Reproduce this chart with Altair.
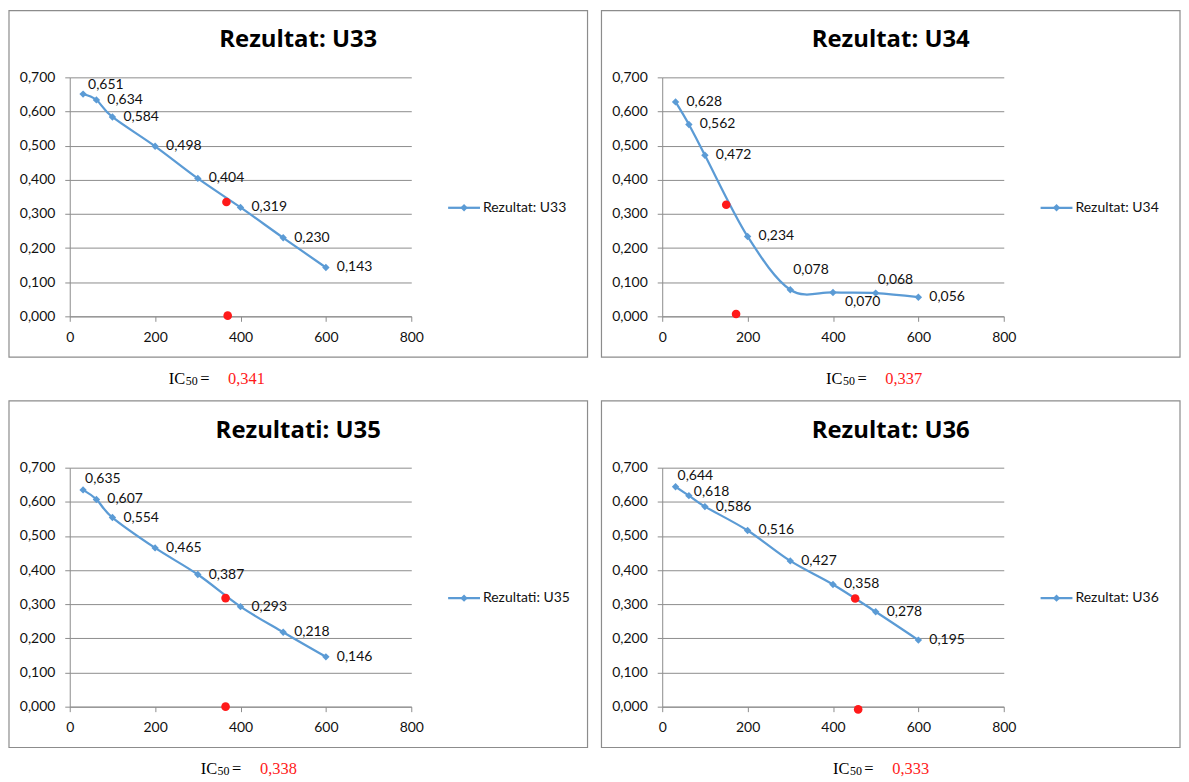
import altair as alt
import pandas as pd

# ---- data ----
conc = [31.25, 62.5, 100, 200, 300, 400, 500, 600]
u33 = [0.651, 0.634, 0.584, 0.498, 0.404, 0.319, 0.230, 0.143]
u34 = [0.628, 0.562, 0.472, 0.234, 0.078, 0.070, 0.068, 0.056]
u35 = [0.635, 0.607, 0.554, 0.465, 0.387, 0.293, 0.218, 0.146]
u36 = [0.644, 0.618, 0.586, 0.516, 0.427, 0.358, 0.278, 0.195]
series = [u33, u34, u35, u36]

titles = ["Rezultat: U33", "Rezultat: U34", "Rezultati: U35", "Rezultat: U36"]
ic50_text = ["0,341", "0,337", "0,338", "0,333"]

# IC50 marker points (red)
red_x = [[367, 370], [150, 173], [365, 365], [452, 459]]
red_y = [[0.335, 0.002], [0.327, 0.007], [0.318, 0.0], [0.317, -0.008]]

x_ticks = [0, 200, 400, 600, 800]
y_ticks = [0, 0.1, 0.2, 0.3, 0.4, 0.5, 0.6, 0.7]

# ---- style ----
BLUE = "#5B9BD5"
RED = "#FF1A1A"
GRAY = "#8C8C8C"
SANS = "Lato"
TITLE_FONT = "Open Sans"
SERIF = "Liberation Serif"
W, H = 343, 240

# label offsets (dx, dy) per panel; default is (11, 0)
label_off = [
    {0: (5, -9)},
    {4: (3, -20), 5: (12, 10), 6: (2, -13)},
    {0: (2, -11)},
    {0: (2, -11), 1: (5, -4)},
]
caption_anchor = [116, 181, 148, 188]


def fmt(v):
    return f"{v:.3f}".replace(".", ",")


xs = alt.Scale(domain=[0, 800], nice=False, zero=False)
ys = alt.Scale(domain=[0, 0.7], nice=False, zero=False)

x_axis = alt.Axis(values=x_ticks, tickCount=20, grid=False, domainColor=GRAY,
                  tickColor=GRAY, tickSize=5, labelPadding=9,
                  labelFont=SANS, labelFontSize=14, labelColor="#111",
                  labelFlush=False, labelOverlap=False, format="d")
y_axis = alt.Axis(values=y_ticks, tickCount=20, grid=True, gridColor=GRAY,
                  domainColor=GRAY, tickColor=GRAY, tickSize=5,
                  labelPadding=10, labelFont=SANS, labelFontSize=14,
                  labelColor="#111", labelFlush=False, labelOverlap=False,
                  labelExpr="replace(format(datum.value, '.3f'), '.', ',')")


def xq():
    return alt.X("x:Q", scale=xs, title=None, axis=x_axis)


def yq():
    return alt.Y("y:Q", scale=ys, title=None, axis=y_axis)


def panel(i):
    df = pd.DataFrame({
        "x": conc,
        "y": series[i],
        "lbl": [fmt(v) for v in series[i]],
        "idx": list(range(len(conc))),
    })
    base = alt.Chart(df)
    one = alt.Chart(pd.DataFrame({"a": [0]}))

    line = base.mark_line(interpolate="cardinal", color=BLUE, strokeWidth=2.25).encode(
        x=xq(), y=yq())

    box = one.mark_rect(fillOpacity=0, stroke=GRAY, strokeWidth=1.2).encode(
        x=alt.value(-61), x2=alt.value(520), y=alt.value(-67), y2=alt.value(H + 41))

    pts = base.mark_point(shape="diamond", filled=True, size=55, color=BLUE, opacity=1).encode(
        x=xq(), y=yq())

    layers = [line, box, pts]

    # data labels grouped by offset
    offs = label_off[i]
    default_idx = [k for k in range(len(conc)) if k not in offs]
    groups = {(11, 0): default_idx}
    for k, o in offs.items():
        groups.setdefault(o, []).append(k)
    for (dx, dy), idxs in groups.items():
        layers.append(
            base.mark_text(align="left", baseline="middle", dx=dx, dy=dy,
                           font=SANS, fontSize=14, color="#111")
            .encode(x=xq(), y=yq(), text="lbl:N")
            .transform_filter(alt.FieldOneOfPredicate(field="idx", oneOf=idxs))
        )

    rdf = pd.DataFrame({"x": red_x[i], "y": red_y[i]})
    red = alt.Chart(rdf).mark_point(shape="circle", filled=True, size=75, color=RED, opacity=1).encode(
        x=xq(), y=yq())
    layers.append(red)

    # title
    layers.append(one.mark_text(align="center", baseline="alphabetic", font=TITLE_FONT,
                                fontSize=24, fontWeight="bold", color="#000").encode(
        x=alt.value(229.5), y=alt.value(-30), text=alt.value(titles[i])))

    # legend
    layers.append(one.mark_rule(color=BLUE, strokeWidth=2.25).encode(
        x=alt.value(380), x2=alt.value(412), y=alt.value(131)))
    layers.append(one.mark_point(shape="diamond", filled=True, size=55, color=BLUE, opacity=1).encode(
        x=alt.value(396), y=alt.value(131)))
    layers.append(one.mark_text(align="left", baseline="middle", font=SANS, fontSize=14,
                                color="#111").encode(
        x=alt.value(415), y=alt.value(131), text=alt.value(titles[i])))

    # IC50 caption
    a = caption_anchor[i]
    cy = H + 68
    layers.append(one.mark_text(align="right", baseline="alphabetic", font=SERIF,
                                fontSize=16.5, color="#000").encode(
        x=alt.value(a), y=alt.value(cy), text=alt.value("IC")))
    layers.append(one.mark_text(align="left", baseline="alphabetic", font=SERIF,
                                fontSize=12, color="#000").encode(
        x=alt.value(a + 0.5), y=alt.value(cy + 1), text=alt.value("50")))
    layers.append(one.mark_text(align="left", baseline="alphabetic", font=SERIF,
                                fontSize=16.5, color="#000").encode(
        x=alt.value(a + 15), y=alt.value(cy), text=alt.value("=")))
    layers.append(one.mark_text(align="left", baseline="alphabetic", font=SERIF,
                                fontSize=16.5, color=RED).encode(
        x=alt.value(a + 43), y=alt.value(cy), text=alt.value(ic50_text[i])))

    return alt.layer(*layers).properties(width=W, height=H)


chart = alt.concat(
    panel(0), panel(1), panel(2), panel(3),
    columns=2, spacing={"row": 152, "column": 252}, bounds="flush"
).properties(padding=0).configure_view(stroke=None)

chart.save("out.html", embed_options={"renderer": "svg", "actions": False})
